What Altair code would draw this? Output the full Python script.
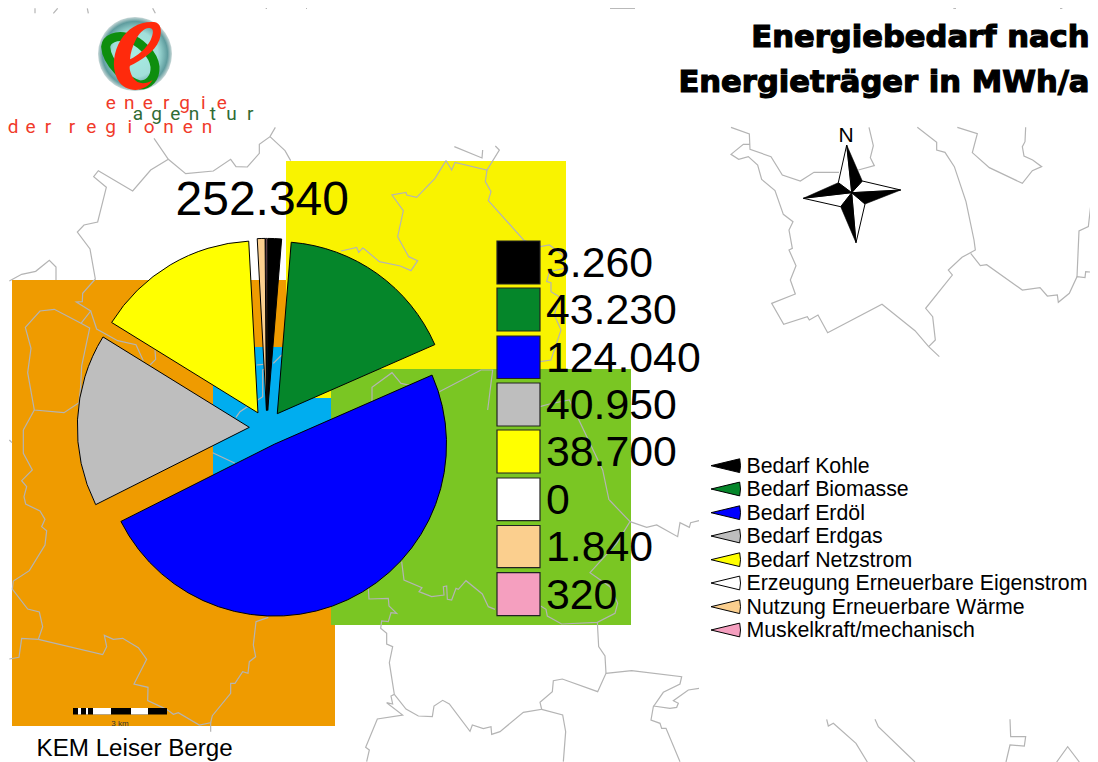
import math
import re
import altair as alt
import pandas as pd

# ---------- data ----------
series = ["Bedarf Kohle", "Bedarf Biomasse", "Bedarf Erdöl", "Bedarf Erdgas", "Bedarf Netzstrom",
          "Erzeugung Erneuerbare Eigenstrom", "Nutzung Erneuerbare Wärme", "Muskelkraft/mechanisch"]
values = [3260, 43230, 124040, 40950, 38700, 0, 1840, 320]
value_labels = ["3.260", "43.230", "124.040", "40.950", "38.700", "0", "1.840", "320"]
colors = ["#000000", "#05862A", "#0000FF", "#BEBEBE", "#FFFF00", "#FFFFFF", "#FBCF8E", "#F59FBF"]
total_label = "252.340"

title_lines = ["Energiebedarf nach", "Energieträger in MWh/a"]
region_name = "KEM Leiser Berge"

# map regions: x0, x1, y0, y1, colour
regions = [
    (12, 335, 280, 726, "#EF9B00"),
    (286, 566, 161, 398, "#F9F300"),
    (331, 631, 369, 625, "#7AC623"),
    (213, 255, 386, 480, "#00ADEF"),
    (255, 286, 347, 480, "#00ADEF"),
    (286, 331, 398, 480, "#00ADEF"),
]

# boundary lines: (x offset, y offset, points at 3x)
boundaries = [
    (0, 130, [(462,25),(505,88),(557,131),(640,123),(692,88),(708,110),(742,111),(778,70),(778,43),(810,20),(826,-8)]),
    (0, 130, [(810,20),(855,62),(872,92)]),
    (0, 130, [(505,88),(452,120),(398,183),(295,122),(281,140),(319,172),(293,276),(252,285),(232,306),(270,357),(286,447),(248,490),(247,515),(229,516),(272,543),(243,580)]),
    (0, 130, [(272,543),(290,597),(353,632),(408,644),(430,692)]),
    (0, 130, [(465,660),(467,688),(450,705)]),
    (0, 130, [(28,453),(65,433),(107,424),(148,391),(168,411),(168,450)]),
    (0, 130, [(243,580),(269,594),(245,708),(242,770),(237,818),(192,848),(103,840),(83,728),(93,655),(76,592),(120,543),(163,538),(243,580)]),
    (0, 130, [(103,840),(70,900)]),
    (0, 430, [(70,0),(70,70),(97,120),(65,152),(80,170),(72,200),(77,222),(120,243),(135,268),(125,290),(140,302),(135,345),(88,422),(40,453),(37,477),(83,537),(118,546),(128,590),(115,628),(65,625),(57,682),(28,687)]),
    (0, 430, [(115,628),(308,674),(320,650),(313,616),(340,628),(368,625),(415,653),(440,688),(402,762),(444,772),(443,812),(500,838),(520,853),(535,848),(598,885),(632,878),(632,905)]),
    (0, 430, [(632,878),(637,857),(692,790),(692,760),(705,760),(728,725),(744,730),(748,695),(767,680),(760,645),(768,575),(805,562)]),
    (0, 430, [(28,30),(36,38)]),
    (0, 430, [(638,68),(705,100)]),
    (0, 130, [(708,862),(720,845),(788,800),(788,720),(800,715)]),
    (0, 130, [(770,705),(790,703)]),
    (0, 130, [(820,700),(845,675)]),
    (286, 150, [(480,32),(497,60),(507,37),(603,60),(640,0),(628,-12)]),
    (286, 150, [(505,-10),(588,24),(590,0)]),
    (286, 150, [(603,60),(598,95),(615,125),(607,152),(715,272),(763,290),(790,285),(830,315),(835,355),(790,365),(782,395),(795,398),(795,425),(820,440),(805,495),(825,540),(795,630),(762,635)]),
    (286, 150, [(480,32),(447,85),(392,142),(362,135),(360,127),(318,135),(352,182),(335,260),(368,320),(395,332),(375,362),(343,348),(280,335),(235,297),(230,294),(218,307),(212,292),(165,303)]),
    (286, 150, [(258,780),(258,712),(318,668),(345,700),(383,708)]),
    (286, 150, [(460,725),(585,660),(620,660),(605,780)]),
    (286, 150, [(762,770),(790,762),(850,750),(950,960),(969,1050)]),
    (330, 500, [(838,0),(900,65),(860,130),(780,218),(840,260),(863,310),(855,340),(802,367),(695,372),(652,348),(648,328),(632,318)]),
    (330, 500, [(495,328),(475,320),(457,282),(408,242),(385,268),(378,265),(365,300),(352,298),(350,258),(340,260),(342,285),(305,290),(267,275),(276,263),(222,240),(215,185)]),
    (330, 500, [(115,265),(117,297),(175,295),(177,318),(200,340),(183,338),(175,365),(155,363),(152,385),(170,400),(170,432),(188,440),(178,488),(193,583),(183,588),(188,612),(170,608),(218,645),(142,657),(107,742),(118,750),(110,785)]),
    (330, 500, [(193,583),(228,627),(265,648),(307,650),(312,618),(338,601),(358,612),(420,694),(427,675),(460,686),(483,680),(485,703),(510,695),(580,637),(635,628),(630,607),(667,575),(670,542),(697,537),(803,575),(828,520),(905,512),(1055,530),(1050,552),(1000,577),(970,620),(963,660),(990,670),(995,685),(1008,685),(1050,785)]),
    (330, 500, [(635,628),(698,645),(707,695),(700,785)]),
    (330, 500, [(802,367),(806,440),(825,468),(828,520)]),
    (330, 500, [(900,65),(950,82),(980,75),(1043,110),(1050,68),(1078,82),(1082,68),(1107,62)]),
    (620, 470, [(100,708),(150,715),(170,712),(175,700),(160,692),(205,660),(237,655)]),
    (620, 470, [(620,748),(625,768),(640,760),(708,820),(742,876)]),
    (620, 470, [(765,748),(775,770),(885,876)]),
    (620, 470, [(1170,748),(1172,800),(1217,800),(1213,828),(1170,825),(1158,876)]),
    (620, 470, [(1310,876),(1343,830),(1378,876)]),
    (720, 120, [(33,22),(88,42),(90,88),(153,110),(187,165),(241,183),(282,157),(357,157)]),
    (720, 120, [(415,150),(463,137),(451,113),(460,77),(447,22)]),
    (720, 120, [(90,73),(70,73),(33,103),(56,118),(85,110),(113,135),(125,178),(165,212),(190,283),(219,305),(207,330),(217,385),(207,390),(228,437),(211,480),(226,522),(155,550),(191,613),(262,590),(268,600),(294,585),(323,638),(486,553),(585,632),(626,680),(658,710)]),
    (720, 120, [(592,22),(650,67),(650,90),(675,97),(703,140),(738,245),(762,360),(766,390),(726,412),(685,450),(697,465),(617,565),(638,590),(646,660),(626,680)]),
    (720, 120, [(752,400),(781,437),(800,434),(907,510),(960,503),(982,528),(1012,525),(1015,547),(1048,520),(1071,470),(1095,473),(1097,455),(1134,458)]),
    (720, 120, [(1071,470),(1077,333),(1105,320),(1122,170),(1134,155)]),
    (720, 120, [(712,22),(772,41),(757,98),(808,143),(907,190),(937,152),(965,140),(938,120),(912,108),(907,80),(915,65),(917,22)]),
    (0, 0, [(105,25),(105,40)]),
    (0, 0, [(173,25),(160,40)]),
    (0, 0, [(262,25),(265,40)]),
    (0, 0, [(458,25),(466,40)]),
    (0, 0, [(797,25),(801,25)]),
    (0, 0, [(918,25),(921,25)]),
    (0, 0, [(1830,25),(1905,25)]),
    (700, 0, [(760,25),(768,25)]),
    (700, 0, [(1080,25),(1087,25)]),
]

# scale bar: x0, x1, colour
scale_bar = [(73, 167, "#000000"), (78, 81, "#FFFFFF"), (86, 88, "#FFFFFF"),
             (93, 111, "#FFFFFF"), (131, 148, "#FFFFFF")]

logo_words = [("energie", 110.7, 18.5, 108.5, "#F03A2A"),
              ("agentur", 138.0, 18.7, 120.0, "#2F6B35"),
              ("der", 13.0, 17.5, 132.7, "#F03A2A"),
              ("regionen", 72.0, 19.3, 132.7, "#F03A2A")]

# ---------- helpers ----------
SX = alt.Scale(domain=[8, 1090], nice=False, zero=False)
SY = alt.Scale(domain=[762, 8], nice=False, zero=False)
X = alt.X("x:Q", scale=SX, axis=None)
Y = alt.Y("y:Q", scale=SY, axis=None)
FONT = "Liberation Sans"


def rects(rows, **mark):
    df = pd.DataFrame(rows, columns=["x", "x2", "y", "y2", "c"])
    return alt.Chart(df).mark_rect(**mark).encode(
        x=X, x2="x2:Q", y=Y, y2="y2:Q", color=alt.Color("c:N", scale=None))


def texts(rows, size, font=FONT, align="left", **mark):
    df = pd.DataFrame(rows, columns=["x", "y", "t"])
    return alt.Chart(df).mark_text(font=font, fontSize=size, align=align,
                                   baseline="alphabetic", **mark).encode(x=X, y=Y, text="t:N")


def scaled_path(path, cx, cy):
    """path written at 3x around a picture position -> path in pixels around the symbol"""
    nums = iter(range(100000))
    def rep(m):
        v = float(m.group()) / 3
        return f"{v - (cx if next(nums) % 2 == 0 else cy):.2f}"
    return re.sub(r"-?\d+(?:\.\d+)?", rep, path)


def symbol(path, x, y, **mark):
    df = pd.DataFrame({"x": [x], "y": [y]})
    return alt.Chart(df).mark_point(shape=path, size=4, opacity=1, **mark).encode(x=X, y=Y)


# ---------- layers ----------
layers = []
layers.append(rects(regions))

rows = []
for k, (ox, oy, pts) in enumerate(boundaries):
    for i, (a, b) in enumerate(pts):
        rows.append({"x": ox + a / 3, "y": oy + b / 3, "id": k, "i": i})
layers.append(alt.Chart(pd.DataFrame(rows)).mark_line(color="#B4B4B4", strokeWidth=1.2).encode(
    x=X, y=Y, detail="id:N", order="i:Q"))

# exploded pie
total = sum(values)
cx, cy, burst = 267.0, 428.1, 17.7
rows, run = [], 0
for v, c in zip(values, colors):
    if v > 0:
        mid = (run + v / 2) / total * 2 * math.pi
        rows.append({"x": cx + burst * math.sin(mid), "y": cy - burst * math.cos(mid),
                     "t0": run, "t1": run + v, "c": c})
    run += v
layers.append(alt.Chart(pd.DataFrame(rows)).mark_arc(radius=172, stroke="#000000", strokeWidth=1).encode(
    x=X, y=Y,
    theta=alt.Theta("t0:Q", stack=None, scale=alt.Scale(domain=[0, total], range=[0, 2 * math.pi])),
    theta2="t1:Q",
    color=alt.Color("c:N", scale=None)))

layers.append(texts([(175.5, 215, total_label)], 48))

# value swatches
sw_top = [241, 288, 336, 383, 430, 478, 525.5, 572.7]
sw_bot = [284, 331, 378.5, 426, 473, 520.7, 567.7, 615.7]
layers.append(rects([(497, 540, a, b, c) for a, b, c in zip(sw_top, sw_bot, colors)],
                    stroke="#222222", strokeWidth=1.2))
layers.append(texts([(546, b - 7, t) for b, t in zip(sw_bot, value_labels)], 42.8))

# legend
leg_y = [465.7, 489, 512.7, 536, 559.7, 583, 606.7, 630]
half = math.radians(13.5)
df = pd.DataFrame({"x": [711] * 8, "y": leg_y, "a": [math.pi / 2 - half] * 8,
                   "b": [math.pi / 2 + half] * 8, "c": colors})
layers.append(alt.Chart(df).mark_arc(radius=29.5, stroke="#000000", strokeWidth=1).encode(
    x=X, y=Y, theta=alt.Theta("a:Q", scale=None, stack=None), theta2="b:Q",
    color=alt.Color("c:N", scale=None)))
layers.append(texts([(746.5, y + 7, t) for y, t in zip(leg_y, series)], 21.3))

# title
layers.append(texts([(1089.5, 47.3, title_lines[0]), (1089.5, 91.7, title_lines[1])], 30.6,
                    font="DejaVu Sans", align="right", fontWeight="bold",
                    stroke="#000000", strokeWidth=1.2))

# compass
star_c = (851.7, 192.7)
N, E, S, W = (846.7, 145), (900.7, 190), (856, 242.7), (803.3, 198.3)
NE, SE, SW, NW = (862.3, 181), (865, 204), (840.7, 206.7), (838.3, 182.7)


def tris(tr):
    out = ""
    for t in tr:
        pts = [(p[0] - star_c[0], p[1] - star_c[1]) for p in (*t, star_c)]
        out += "M" + " L".join(f"{a:.2f} {b:.2f}" for a, b in pts) + " Z "
    return out


layers.append(symbol(tris([(N, NW), (E, NE), (S, SE), (W, SW)]), *star_c,
                     filled=True, fill="#FFFFFF", stroke="#000000", strokeWidth=1))
layers.append(symbol(tris([(N, NE), (E, SE), (S, SW), (W, NW)]), *star_c,
                     filled=True, fill="#000000", stroke="#000000", strokeWidth=0.6))
layers.append(texts([(846, 141.7, "N")], 21, align="center"))

# scale bar
layers.append(rects([(a, b, 708, 714.5, c) for a, b, c in scale_bar]))
layers.append(texts([(120, 726, "3 km")], 8, align="center", fill="#333333"))
layers.append(texts([(36.5, 755.7, region_name)], 24.2))

# logo
sphere = alt.Chart(pd.DataFrame({"x": [135], "y": [54]})).mark_point(
    shape="circle", size=4 * 37 * 37, filled=True, opacity=1, strokeWidth=0,
    fill=alt.RadialGradient(gradient="radial", stops=[
        alt.GradientStop(offset=0, color="#A6EDE4"),
        alt.GradientStop(offset=0.62, color="#A2DFDA"),
        alt.GradientStop(offset=0.88, color="#5F9C9E"),
        alt.GradientStop(offset=1, color="#C9D8D8")])
).encode(x=X, y=Y)
layers.append(sphere)
# the logo drawing at 3x, origin of the crop (90, 10): shifted with the crop offset
ring = "M47 110 C50 85 80 75 110 82 C150 92 192 135 195 170 C197 205 175 225 150 225 C110 215 50 160 47 110 Z"
red_e = ("M192 36 C150 33 112 55 92 90 C71 125 64 170 82 207 C98 238 130 243 150 238 "
         "C167 232 178 226 188 210 C165 225 142 222 130 205 C120 188 117 172 120 167 "
         "C152 152 194 127 208 90 C218 60 212 38 192 36 Z "
         "M182 55 C192 58 190 72 182 90 C170 115 142 138 120 148 C121 130 127 110 137 90 "
         "C147 70 165 50 182 55 Z")
layers.append(symbol(scaled_path(ring, 45, 44), 135, 54, filled=False, stroke="#0E8E0E", strokeWidth=9))
layers.append(symbol(scaled_path(red_e, 45, 44), 135, 54, filled=True, fill="#FF2A0C", strokeWidth=0))

for word, x0, step, base, col in logo_words:
    rows = [(x0 + i * step, base, ch) for i, ch in enumerate(word)]
    layers.append(texts(rows, 19, font="Roboto", align="center", fill=col))

chart = alt.layer(*layers).properties(
    width=1082, height=754, padding=0, background="#FFFFFF",
    autosize=alt.AutoSizeParams(type="none")
).configure_view(stroke=None)

chart.save("out.html", embed_options={"renderer": "svg", "actions": False})
